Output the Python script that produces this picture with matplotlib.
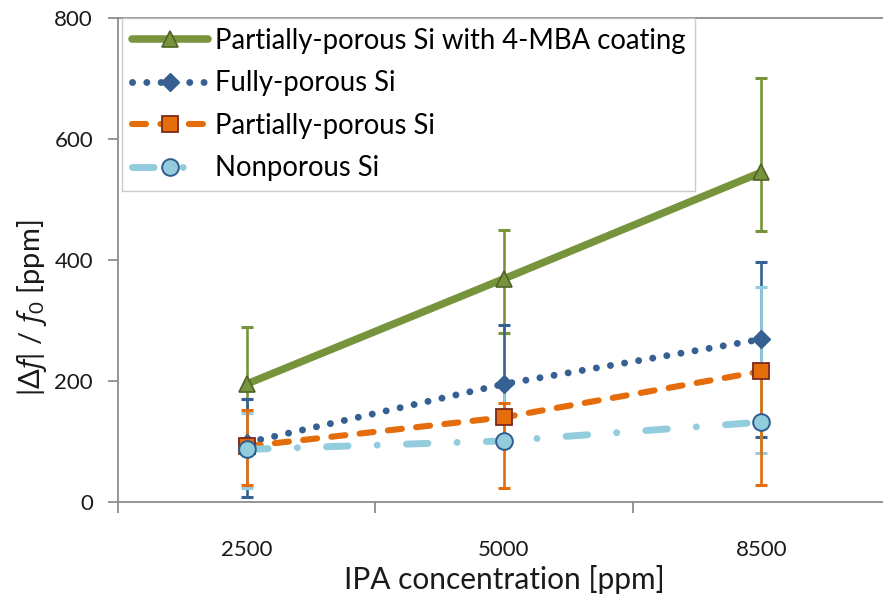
import matplotlib
matplotlib.use('Agg')
import matplotlib.pyplot as plt

plt.rcParams['font.family'] = ['Lato', 'DejaVu Sans']
plt.rcParams['mathtext.fontset'] = 'custom'
plt.rcParams['mathtext.rm'] = 'Lato'
plt.rcParams['mathtext.it'] = 'Open Sans:italic'

# data
conc = ['2500', '5000', '8500']

coated = [195, 369, 545]
coated_lo = [94, 90, 97]
coated_hi = [94, 81, 156]

fully = [98, 195, 269]
fully_lo = [90, 104, 162]
fully_hi = [73, 97, 127]

partial = [92, 140, 216]
partial_lo = [64, 117, 188]
partial_hi = [60, 23, 12]

nonpor = [87, 101, 132]
nonpor_lo = [64, 5, 51]
nonpor_hi = [60, 90, 223]

green, green_e = '#77933C', '#4F6228'
blue = '#376092'
orange, orange_e = '#E46C0A', '#7A2A1E'
lblue, lblue_e = '#93CDDD', '#2E5C8F'
axcol = '#8C8C8C'
txt = '#1a1a1a'

fig = plt.figure(figsize=(8.83, 5.99), dpi=100)
ax = fig.add_axes([118/883, 1-502/599, 772/883, 484/599])

# error bars (drawn underneath, Excel-ish stacking)
eb = dict(fmt='none', elinewidth=1.9, capsize=4.5, capthick=2.2)
ax.errorbar(conc, coated, yerr=[coated_lo, coated_hi], ecolor=green, zorder=2.0, **eb)
ax.errorbar(conc, fully, yerr=[fully_lo, fully_hi], ecolor=blue, zorder=2.1, **eb)
ax.errorbar(conc, nonpor, yerr=[nonpor_lo, nonpor_hi], ecolor=lblue, zorder=2.2, **eb)
ax.errorbar(conc, partial, yerr=[partial_lo, partial_hi], ecolor=orange, zorder=2.3, **eb)

# series lines + markers
l_coated, = ax.plot(conc, coated, color=green, lw=5.4, marker='^', ms=12,
                    mfc=green, mec=green_e, mew=1.2, solid_capstyle='round', zorder=3)
l_fully, = ax.plot(conc, fully, color=blue, lw=5.0, marker='D', ms=9,
                   mfc=blue, mec=blue, dash_capstyle='round', zorder=3.1)
l_fully.set_dashes((0.01, 2.05))
l_partial, = ax.plot(conc, partial, color=orange, lw=4.4, marker='s', ms=11.5,
                     mfc=orange, mec=orange_e, mew=1.3, dash_capstyle='round', zorder=3.2)
l_partial.set_dashes((2.3, 2.35))
l_nonpor, = ax.plot(conc, nonpor, color=lblue, lw=5.0, marker='o', ms=12,
                    mfc=lblue, mec=lblue_e, mew=1.4, dash_capstyle='round', zorder=3.3)
l_nonpor.set_dashes((3.1, 4.2, 0.01, 4.2))

ax.set_xlim(-0.5, 2.5)
ax.set_ylim(0, 800)
ax.set_yticks([0, 200, 400, 600, 800])
ax.set_xticks([-0.5, 0.5, 1.5, 2.5], minor=True)

for s in ['left', 'bottom', 'top']:
    ax.spines[s].set_color(axcol)
    ax.spines[s].set_linewidth(1.3)
ax.spines['right'].set_visible(False)

ax.tick_params(axis='y', direction='out', length=7, width=1.3, color=axcol,
               labelsize=16, pad=11, labelcolor=txt)
ax.tick_params(axis='x', which='major', length=0, labelsize=16, pad=27,
               labelcolor=txt)
ax.tick_params(axis='x', which='minor', direction='out', length=8, width=1.3,
               color=axcol)

ax.set_xlabel('IPA concentration [ppm]', fontsize=21.5, color=txt)
ax.xaxis.set_label_coords(0.5, -0.13, transform=ax.transAxes)
fig.text(0.036, 0.487, r'$|\mathit{\Delta f}|\ /\ \mathit{f_0}$ [ppm]', rotation=90,
         ha='center', va='center', fontsize=21, color=txt)

handles = [l_coated, l_fully, l_partial, l_nonpor]
labels = ['Partially-porous Si with 4-MBA coating', 'Fully-porous Si',
          'Partially-porous Si', 'Nonporous Si']
leg = ax.legend(handles, labels, loc='upper left', bbox_to_anchor=(122/883, 1-18/599),
                bbox_transform=fig.transFigure, fontsize=19.8, frameon=True,
                fancybox=False, edgecolor='#BFBFBF', handlelength=2.75,
                handletextpad=0.27, labelspacing=0.6, borderpad=0.36,
                borderaxespad=0)
leg.get_frame().set_linewidth(1.0)
leg.set_zorder(5)

fig.savefig('out.png', dpi=100)
